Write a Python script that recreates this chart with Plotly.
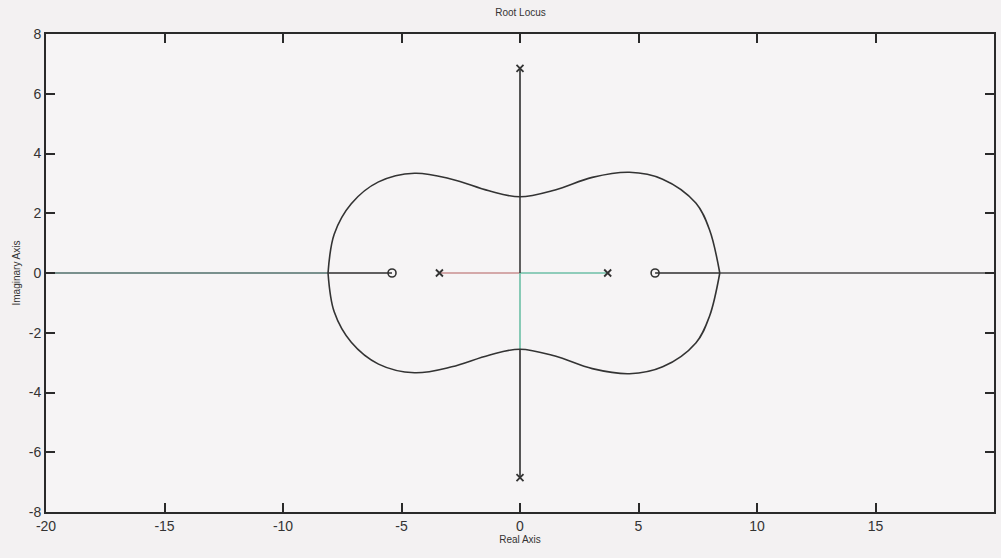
import plotly.graph_objects as go

# Upper half of the closed locus loop (real, imaginary); the lower half is its mirror image
loop_re = [-8.1, -7.84, -7.12, -5.97, -4.45, -2.88, -1.31, 0.0, 1.48, 3.05, 4.62, 6.02, 7.42, 8.0, 8.43]
loop_im = [0.0, 1.3, 2.32, 3.05, 3.34, 3.14, 2.75, 2.55, 2.78, 3.2, 3.37, 3.14, 2.34, 1.44, 0.0]

# Open-loop poles and zeros
pole_re = [-3.4, 3.7, 0.0, 0.0]
pole_im = [0.0, 0.0, 6.85, -6.85]
zero_re = [-5.4, 5.7]
zero_im = [0.0, 0.0]

# Branch segments lying on the axes: (x values, y values, colour)
axis_branches = [
    ([-20.0, -8.1], [0.0, 0.0], "#4f6f6a"),
    ([-8.1, -5.4], [0.0, 0.0], "#2e2e2e"),
    ([-3.4, 0.0], [0.0, 0.0], "#c98f8f"),
    ([0.0, 3.7], [0.0, 0.0], "#6cbfa6"),
    ([5.7, 8.43], [0.0, 0.0], "#2e2e2e"),
    ([8.43, 20.0], [0.0, 0.0], "#4a4a4a"),
    ([0.0, 0.0], [6.85, 2.55], "#2e2e2e"),
    ([0.0, 0.0], [2.55, 0.0], "#3a3a3a"),
    ([0.0, 0.0], [0.0, -2.55], "#6cbfa6"),
    ([0.0, 0.0], [-2.55, -6.85], "#2e2e2e"),
]

x_ticks = [-20, -15, -10, -5, 0, 5, 10, 15, 20]
y_ticks = [-8, -6, -4, -2, 0, 2, 4, 6, 8]

fig = go.Figure()

for xs, ys, col in axis_branches:
    fig.add_trace(go.Scatter(x=xs, y=ys, mode="lines",
                             line=dict(color=col, width=1.6), hoverinfo="skip"))

fig.add_trace(go.Scatter(x=loop_re, y=loop_im, mode="lines",
                         line=dict(color="#333333", width=1.6, shape="spline"),
                         hoverinfo="skip"))
fig.add_trace(go.Scatter(x=loop_re, y=[-v for v in loop_im], mode="lines",
                         line=dict(color="#333333", width=1.6, shape="spline"),
                         hoverinfo="skip"))

fig.add_trace(go.Scatter(x=pole_re, y=pole_im, mode="markers",
                         marker=dict(symbol="x-thin", size=7, color="#333333",
                                     line=dict(color="#333333", width=1.8)),
                         hoverinfo="skip"))
fig.add_trace(go.Scatter(x=zero_re, y=zero_im, mode="markers",
                         marker=dict(symbol="circle-open", size=8, color="#333333",
                                     line=dict(color="#333333", width=1.6)),
                         hoverinfo="skip"))

tick_font = dict(family="Liberation Sans Narrow, Liberation Sans, Arial", size=14, color="#333333")
label_font = dict(family="Liberation Sans, Arial", size=10, color="#333333")

fig.update_layout(
    width=1001, height=558,
    margin=dict(l=46, r=5, t=34, b=46),
    paper_bgcolor="#f3f1f2",
    plot_bgcolor="#f6f4f5",
    showlegend=False,
    title=dict(text="Root Locus", x=0.52, xanchor="center", y=0.978, yanchor="middle",
               font=label_font),
    font=tick_font,
)

fig.update_xaxes(
    range=[-20, 20], tickvals=x_ticks, ticktext=[str(v) for v in x_ticks],
    showgrid=False, zeroline=False,
    showline=True, linecolor="#2a2a2a", linewidth=2, mirror="ticks",
    ticks="inside", ticklen=9, tickwidth=1.5, tickcolor="#2a2a2a",
    tickfont=tick_font,
    title=dict(text="Real Axis", standoff=2, font=label_font),
)
fig.update_yaxes(
    range=[-8, 8], tickvals=y_ticks, ticktext=[str(v) for v in y_ticks],
    showgrid=False, zeroline=False,
    showline=True, linecolor="#2a2a2a", linewidth=2, mirror="ticks",
    ticks="inside", ticklen=9, tickwidth=1.5, tickcolor="#2a2a2a",
    tickfont=tick_font,
    title=dict(text="Imaginary Axis", standoff=6, font=label_font),
)

fig.write_html("out.html")
